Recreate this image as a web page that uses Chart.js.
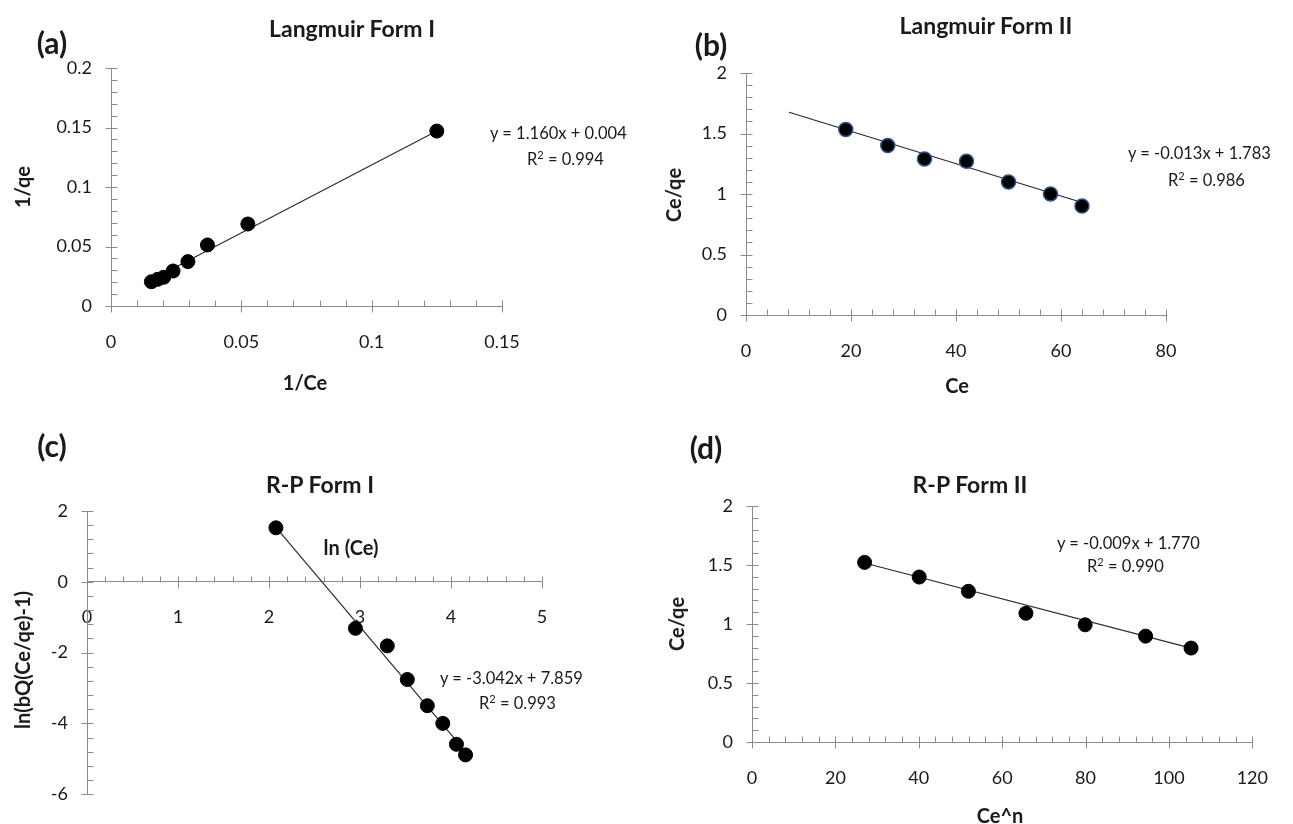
<!DOCTYPE html>
<html><head><meta charset="utf-8">
<script src="https://cdn.jsdelivr.net/npm/chart.js@4.4.0/dist/chart.umd.min.js"></script>
<style>
html,body{margin:0;padding:0;background:#fff;}
#wrap{position:relative;width:1293px;height:824px;overflow:hidden;font-family:Lato,'Open Sans',sans-serif;color:#1a1a1a;}
canvas{position:absolute;left:0;top:0;}
.t{position:absolute;white-space:nowrap;transform:translate(-50%,-50%);line-height:1;}
.b{font-weight:bold;}
.eq{position:absolute;white-space:nowrap;transform:translateY(-50%);font-size:16.5px;line-height:1;}
.rot{transform:translate(-50%,-50%) rotate(-90deg);}
sup{font-size:11px;vertical-align:top;position:relative;top:-2px;}
</style></head>
<body>
<div id="wrap">
  <canvas id="ca" width="1293" height="824"></canvas>
  <canvas id="cb" width="1293" height="824"></canvas>
  <canvas id="cc" width="1293" height="824"></canvas>
  <canvas id="cd" width="1293" height="824"></canvas>

  <div class="t b" style="left:52px;top:42px;font-size:30px;">(a)</div>
  <div class="t b" style="left:352px;top:28px;font-size:23px;">Langmuir Form I</div>
  <div class="t b" style="left:305px;top:382px;font-size:20px;">1/Ce</div>
  <div class="t b rot" style="left:22px;top:187px;font-size:20px;">1/qe</div>
  <div class="eq" style="left:490px;top:133px;">y = 1.160x + 0.004</div>
  <div class="eq" style="left:527px;top:159px;">R<sup>2</sup> = 0.994</div>

  <div class="t b" style="left:711px;top:44px;font-size:30px;">(b)</div>
  <div class="t b" style="left:986px;top:25px;font-size:23px;">Langmuir Form II</div>
  <div class="t b" style="left:957px;top:385px;font-size:20px;">Ce</div>
  <div class="t b rot" style="left:673px;top:195px;font-size:20px;">Ce/qe</div>
  <div class="eq" style="left:1128px;top:153px;">y = -0.013x + 1.783</div>
  <div class="eq" style="left:1168px;top:180px;">R<sup>2</sup> = 0.986</div>

  <div class="t b" style="left:52px;top:445px;font-size:30px;">(c)</div>
  <div class="t b" style="left:320px;top:484px;font-size:23px;">R-P Form I</div>
  <div class="t b" style="left:351px;top:547px;font-size:20px;">ln (Ce)</div>
  <div class="t b rot" style="left:22px;top:660px;font-size:20px;">ln(bQ(Ce/qe)-1)</div>
  <div class="eq" style="left:440px;top:678px;">y = -3.042x + 7.859</div>
  <div class="eq" style="left:479px;top:703px;">R<sup>2</sup> = 0.993</div>

  <div class="t b" style="left:706px;top:447px;font-size:30px;">(d)</div>
  <div class="t b" style="left:970px;top:484px;font-size:23px;">R-P Form II</div>
  <div class="t b" style="left:1000px;top:815px;font-size:20px;">Ce^n</div>
  <div class="t b rot" style="left:676px;top:624px;font-size:20px;">Ce/qe</div>
  <div class="eq" style="left:1057px;top:543px;">y = -0.009x + 1.770</div>
  <div class="eq" style="left:1087px;top:566px;">R<sup>2</sup> = 0.990</div>
</div>
<script>
// ---- Data ----
// (a) Langmuir Form I
const aInvCe = [0.0155, 0.0179, 0.0202, 0.0238, 0.0295, 0.0370, 0.0525, 0.125];
const aInvQe = [0.0204, 0.0224, 0.0241, 0.0294, 0.0373, 0.0513, 0.0689, 0.147];
const aFitX  = [0.0155, 0.125];
const aFitY  = [0.022, 0.147];
const aXRange = [0, 0.15], aYRange = [0, 0.2];

// (b) Langmuir Form II
const bCe   = [19, 27, 34, 42, 50, 58, 64];
const bCeQe = [1.533, 1.40, 1.29, 1.27, 1.10, 1.00, 0.90];
const bFitX = [8.2, 64];
const bFitY = [1.676, 0.93];
const bXRange = [0, 80], bYRange = [0, 2];

// (c) R-P Form I
const cLnCe = [2.076, 2.95, 3.30, 3.52, 3.74, 3.91, 4.06, 4.16];
const cLnY  = [1.525, -1.315, -1.81, -2.76, -3.50, -4.00, -4.59, -4.89];
const cFitX = [2.076, 4.16];
const cFitY = [1.54, -4.80];
const cXRange = [0, 5], cYRange = [-6, 2];

// (d) R-P Form II
const dCen  = [27, 40.1, 51.9, 65.7, 79.9, 94.4, 105.3];
const dCeQe = [1.522, 1.398, 1.277, 1.091, 0.993, 0.897, 0.796];
const dFitX = [27, 105.3];
const dFitY = [1.517, 0.795];
const dXRange = [0, 120], dYRange = [0, 2];

const W = 1293, H = 824;
const TXT = '#1a1a1a', AX = '#8c8c8c';
const zip = (xs, ys) => xs.map((v, i) => ({x: v, y: ys[i]}));
const fmt = v => String(parseFloat(Number(v).toFixed(4)));

function tickPlugin(cfg) {
  return {
    id: 'excelTicks',
    beforeDatasetsDraw(chart) {
      const {ctx, chartArea, scales: {x, y}} = chart;
      const axisY = cfg.xAtZero ? Math.round(y.getPixelForValue(0)) + 0.5 : Math.round(chartArea.bottom) + 0.5;
      const axisX = Math.round(chartArea.left) + 0.5;
      ctx.save();
      ctx.strokeStyle = AX; ctx.lineWidth = 1;
      ctx.beginPath();
      const nx = Math.round((x.max - x.min) / cfg.xMinor);
      for (let i = 0; i <= nx; i++) {
        const px = Math.round(x.getPixelForValue(x.min + i * cfg.xMinor)) + 0.5;
        if (i % 5 === 0) { ctx.moveTo(px, axisY - 6); ctx.lineTo(px, axisY + 6); }
        else { ctx.moveTo(px, axisY); ctx.lineTo(px, axisY - 6); }
      }
      const ny = Math.round((y.max - y.min) / cfg.yMinor);
      for (let i = 0; i <= ny; i++) {
        const py = Math.round(y.getPixelForValue(y.min + i * cfg.yMinor)) + 0.5;
        if (i % 5 === 0) { ctx.moveTo(axisX - 6, py); ctx.lineTo(axisX + 6, py); }
        else { ctx.moveTo(axisX, py); ctx.lineTo(axisX + 6, py); }
      }
      ctx.stroke();
      ctx.restore();
    }
  };
}

function panel(id, pts, fit, area, xr, xStep, yr, yStep, xAtZero, ptBorder) {
  const tickFont = {family: 'Lato', size: 18};
  new Chart(document.getElementById(id), {
    type: 'scatter',
    data: {
      datasets: [
        {data: fit, showLine: true, pointRadius: 0, borderColor: '#2b2b2b', borderWidth: 1.2, order: 2},
        {data: pts, pointRadius: 7, pointHoverRadius: 7, backgroundColor: '#000',
         borderColor: ptBorder || '#000', borderWidth: ptBorder ? 1.5 : 1, order: 1}
      ]
    },
    options: {
      responsive: false, animation: false, devicePixelRatio: 1,
      layout: {padding: {left: area.L - 60, right: W - area.R, top: area.T,
                         bottom: xAtZero ? H - area.B : H - area.B - 60}},
      plugins: {legend: {display: false}, tooltip: {enabled: false}},
      scales: {
        x: {
          type: 'linear', position: xAtZero ? {y: 0} : 'bottom',
          min: xr[0], max: xr[1],
          ticks: {stepSize: xStep, font: tickFont, color: TXT, padding: 25, maxRotation: 0, autoSkip: false, callback: fmt},
          grid: {display: false, drawTicks: false},
          border: {display: true, color: AX, width: 1},
          afterFit: s => { s.height = 60; }
        },
        y: {
          type: 'linear', position: 'left',
          min: yr[0], max: yr[1],
          ticks: {stepSize: yStep, font: tickFont, color: TXT, padding: 19, autoSkip: false, callback: fmt},
          grid: {display: false, drawTicks: false},
          border: {display: true, color: AX, width: 1},
          afterFit: s => { s.width = 60; }
        }
      }
    },
    plugins: [tickPlugin({xMinor: xStep / 5, yMinor: yStep / 5, xAtZero})]
  });
}

panel('ca', zip(aInvCe, aInvQe), zip(aFitX, aFitY), {L: 111, R: 502, T: 68, B: 306}, aXRange, 0.05, aYRange, 0.05, false);
panel('cb', zip(bCe, bCeQe), zip(bFitX, bFitY), {L: 746, R: 1166, T: 73, B: 315}, bXRange, 20, bYRange, 0.5, false, '#2f5587');
panel('cc', zip(cLnCe, cLnY), zip(cFitX, cFitY), {L: 87, R: 542, T: 511, B: 805}, cXRange, 1, cYRange, 2, true);
panel('cd', zip(dCen, dCeQe), zip(dFitX, dFitY), {L: 752, R: 1253, T: 506, B: 742}, dXRange, 20, dYRange, 0.5, false);
</script>
</body></html>
